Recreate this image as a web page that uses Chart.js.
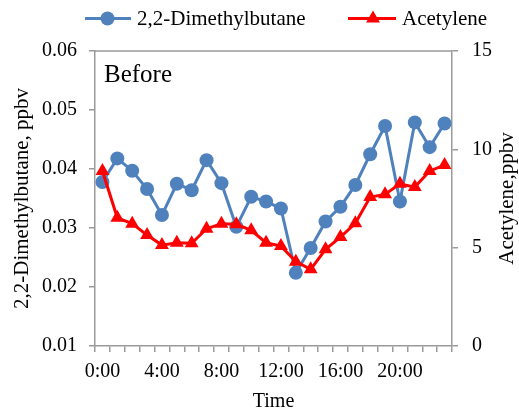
<!DOCTYPE html>
<html>
<head>
<meta charset="utf-8">
<script src="https://cdn.jsdelivr.net/npm/chart.js@4/dist/chart.umd.min.js"></script>
<style>
  html, body { margin: 0; padding: 0; background: #fff; }
  #wrap { width: 519px; height: 410px; position: relative; }
</style>
</head>
<body>
<div id="wrap"><canvas id="c"></canvas></div>
<script>
const timeLabels = ['0:00','1:00','2:00','3:00','4:00','5:00','6:00','7:00','8:00','9:00','10:00','11:00',
                    '12:00','13:00','14:00','15:00','16:00','17:00','18:00','19:00','20:00','21:00','22:00','23:00'];
const dmbValues = [0.0378, 0.0418, 0.0397, 0.0366, 0.0322, 0.0375, 0.0364, 0.0415, 0.0376, 0.0302, 0.0353, 0.0345,
                   0.0333, 0.0224, 0.0266, 0.0311, 0.0336, 0.0373, 0.0425, 0.0473, 0.0345, 0.0479, 0.0437, 0.0477];
const acetyleneValues = [8.90, 6.52, 6.22, 5.64, 5.13, 5.25, 5.22, 5.96, 6.22, 6.19, 5.88, 5.25,
                         5.08, 4.29, 3.90, 4.92, 5.54, 6.24, 7.57, 7.71, 8.25, 8.08, 8.90, 9.20];
const leftAxisRange = [0.01, 0.06];
const rightAxisRange = [0, 15];
const seriesNames = ['2,2-Dimethylbutane', 'Acetylene'];
const axisTitles = ['Time', '2,2-Dimethylbutane, ppbv', 'Acetylene,ppbv'];
const panelLabel = 'Before';

const FONT = "'Liberation Serif', 'Times New Roman', serif";
const BLUE = '#4F81BD';
const RED = '#FF0000';
const AXIS = '#9a9a9a';

const framePlugin = {
  id: 'frame',
  afterDraw(chart) {
    const { ctx, chartArea: a } = chart;
    ctx.save();
    ctx.strokeStyle = AXIS;
    ctx.lineWidth = 1.5;
    ctx.beginPath();
    ctx.moveTo(a.left, a.top);
    ctx.lineTo(a.right, a.top);
    ctx.stroke();
    // panel label
    ctx.fillStyle = '#000';
    ctx.font = '25px ' + FONT;
    ctx.textAlign = 'left';
    ctx.textBaseline = 'alphabetic';
    ctx.fillText(panelLabel, 104, 82);
    // right axis title (reads bottom-to-top)
    ctx.font = '21px ' + FONT;
    ctx.translate(507, (a.top + a.bottom) / 2);
    ctx.rotate(-Math.PI / 2);
    ctx.textAlign = 'center';
    ctx.textBaseline = 'middle';
    ctx.fillText(axisTitles[2], 0, 0);
    ctx.restore();

    // legend
    ctx.save();
    const ly = 18.5;
    ctx.lineWidth = 3;
    ctx.strokeStyle = BLUE;
    ctx.beginPath(); ctx.moveTo(85, ly); ctx.lineTo(131, ly); ctx.stroke();
    ctx.fillStyle = BLUE;
    ctx.beginPath(); ctx.arc(107.5, ly, 7, 0, Math.PI * 2); ctx.fill();
    ctx.strokeStyle = RED;
    ctx.beginPath(); ctx.moveTo(348, ly); ctx.lineTo(396, ly); ctx.stroke();
    ctx.fillStyle = RED;
    const r = 8, cx = 373;
    ctx.beginPath();
    ctx.moveTo(cx, ly - r);
    ctx.lineTo(cx + r * 0.866, ly + r * 0.5);
    ctx.lineTo(cx - r * 0.866, ly + r * 0.5);
    ctx.closePath(); ctx.fill();
    ctx.fillStyle = '#000';
    ctx.font = '21px ' + FONT;
    ctx.textAlign = 'left';
    ctx.textBaseline = 'middle';
    ctx.fillText(seriesNames[0], 137, ly + 1);
    ctx.fillText(seriesNames[1], 402, ly + 1);
    ctx.restore();
  }
};

new Chart(document.getElementById('c'), {
  type: 'line',
  data: {
    labels: timeLabels,
    datasets: [
      {
        label: seriesNames[0],
        data: dmbValues,
        yAxisID: 'y',
        borderColor: BLUE,
        backgroundColor: BLUE,
        borderWidth: 3,
        pointStyle: 'circle',
        pointRadius: 7,
        pointBorderWidth: 0,
        pointBackgroundColor: BLUE,
        tension: 0,
        order: 2
      },
      {
        label: seriesNames[1],
        data: acetyleneValues,
        yAxisID: 'y1',
        borderColor: RED,
        backgroundColor: RED,
        borderWidth: 3,
        pointStyle: 'triangle',
        pointRadius: 8,
        pointBorderWidth: 0,
        pointBackgroundColor: RED,
        tension: 0,
        order: 1
      }
    ]
  },
  options: {
    responsive: true,
    maintainAspectRatio: false,
    animation: false,
    layout: { padding: { top: 51, left: 0, right: 0, bottom: 0 } },
    plugins: { legend: { display: false }, tooltip: { enabled: false } },
    scales: {
      x: {
        type: 'category',
        offset: true,
        grid: { display: true, offset: true, drawOnChartArea: false, drawTicks: true, tickLength: 6, color: AXIS, lineWidth: 1.5 },
        border: { display: true, color: AXIS, width: 1.5 },
        ticks: {
          autoSkip: false, maxRotation: 0, minRotation: 0, padding: 8,
          color: '#000', font: { family: FONT, size: 20 },
          callback: (v, i) => (i % 4 === 0 ? timeLabels[i] : '')
        },
        title: { display: true, text: axisTitles[0], color: '#000', font: { family: FONT, size: 20, lineHeight: 0.8 }, padding: { top: 0, bottom: 0 } },
        afterFit: (s) => { s.height = 64; }
      },
      y: {
        position: 'left',
        min: leftAxisRange[0], max: leftAxisRange[1],
        grid: { display: true, drawOnChartArea: false, drawTicks: true, tickLength: 6, color: AXIS, lineWidth: 1.5 },
        border: { display: true, color: AXIS, width: 1.5 },
        ticks: { stepSize: 0.01, padding: 12, color: '#000', font: { family: FONT, size: 20 }, callback: (v) => v.toFixed(2) },
        title: { display: true, text: axisTitles[1], color: '#000', font: { family: FONT, size: 21, lineHeight: 1 }, padding: { top: 11.5, bottom: 0 } },
        afterFit: (s) => { s.width = 95; }
      },
      y1: {
        position: 'right',
        min: rightAxisRange[0], max: rightAxisRange[1],
        grid: { display: true, drawOnChartArea: false, drawTicks: true, tickLength: 6, color: AXIS, lineWidth: 1.5 },
        border: { display: true, color: AXIS, width: 1.5 },
        ticks: { stepSize: 5, padding: 14, color: '#000', font: { family: FONT, size: 20 } },
        afterFit: (s) => { s.width = 67; }
      }
    }
  },
  plugins: [framePlugin]
});
</script>
</body>
</html>
